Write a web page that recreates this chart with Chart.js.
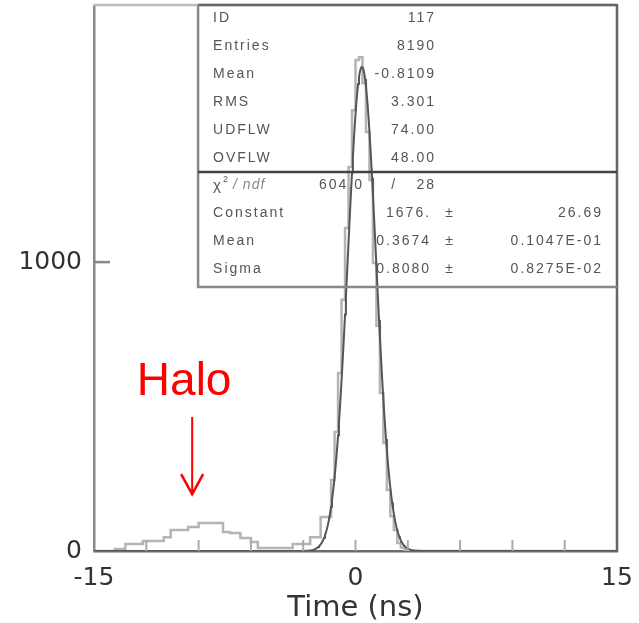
<!DOCTYPE html>
<html>
<head>
<meta charset="utf-8">
<title>Time (ns)</title>
<script src="https://cdn.jsdelivr.net/npm/chart.js@4.4.1/dist/chart.umd.min.js"></script>
<style>
  html, body { margin: 0; padding: 0; background: #fff; }
  canvas { display: block; }
</style>
</head>
<body>
<canvas id="chart" width="639" height="623"></canvas>
<script>
// Timing histogram: 150 bins of 0.2 ns covering -15 .. 15 ns
const BIN_LOW = -15;
const BIN_WIDTH = 0.2;
const binCounts = [
    0, 0, 0, 0, 0, 0,                         // -15.0 .. -14.0
    7, 7, 7,                                  // -13.8 .. -13.4
    24, 24, 24, 24, 24,                       // -13.2 .. -12.4
    35, 35, 35, 35, 35, 35,                   // -12.2 .. -11.2
    48, 48,                                   // -11.0 .. -10.8
    73, 73, 73, 73, 73,                       // -10.6 .. -9.8
    83, 83, 83,                               // -9.6 .. -9.2
    97, 97, 97, 97, 97, 97, 97,               // -9.0 .. -7.8
    66, 66,                                   // -7.6 .. -7.4
    62, 62, 62,                               // -7.2 .. -6.8
    45, 45, 45,                               // -6.6 .. -6.2
    31, 31,                                   // -6.0 .. -5.8
    10, 10, 10, 10, 10, 10, 10, 10, 10, 10,   // -5.6 .. -3.8
    24, 24, 24, 24, 24,                       // -3.6 .. -2.8
    48, 48, 48,                               // -2.6 .. -2.2
    118, 118, 118,                            // -2.0 .. -1.6
    246, 412, 616, 870, 1118, 1329, 1526,     // -1.4 .. -0.2
    1700, 1709, 1619, 1450, 1284, 997, 780,   // 0.0 .. 1.2
    547, 374, 211, 120, 73, 28, 12, 4,        // 1.4 .. 2.8
    0, 0, 0, 0, 0, 0, 0, 0, 0, 0,             // 3.0 .. 4.8
    0, 0, 0, 0, 0, 0, 0, 0, 0, 0,
    0, 0, 0, 0, 0, 0, 0, 0, 0, 0,
    0, 0, 0, 0, 0, 0, 0, 0, 0, 0,
    0, 0, 0, 0, 0, 0, 0, 0, 0, 0,
    0, 0, 0, 0, 0, 0, 0, 0, 0, 0              // .. 14.8
];

// Gaussian fit result
const fitConstant = 1676;
const fitMean = 0.3674;
const fitSigma = 0.8080;

// Stats box contents
const statLabels = ['ID', 'Entries', 'Mean', 'RMS', 'UDFLW', 'OVFLW'];
const statValues = ['117', '8190', '-0.8109', '3.301', '74.00', '48.00'];
const chi2Value = '604.0';
const ndfValue = '28';
const fitLabels = ['Constant', 'Mean', 'Sigma'];
const fitValues = ['1676.', '0.3674', '0.8080'];
const fitErrors = ['26.69', '0.1047E-01', '0.8275E-02'];

// Axis ticks
const X_MIN = -15, X_MAX = 15;
const Y_MIN = 0, Y_MAX = 1890;
const xTicks = [-15, 0, 15];
const xMinorTicks = [-12, -9, -6, -3, 0, 3, 6, 9, 12];
const yTicks = [0, 1000];

const AXIS_FONT = 'DejaVu Sans, sans-serif';
const TEXT_FONT = 'Liberation Sans, Arial, sans-serif';

// Build the step outline from the bin left edges, closing at the upper edge
const histPoints = binCounts.map((c, i) => ({ x: BIN_LOW + i * BIN_WIDTH, y: c }));
histPoints.push({ x: BIN_LOW + binCounts.length * BIN_WIDTH, y: binCounts[binCounts.length - 1] });

// Fit curve sampled from the fitted Gaussian parameters
const fitPoints = [];
for (let k = 0; k <= 600; k++) {
    const t = X_MIN + k * 0.05;
    fitPoints.push({ x: t, y: fitConstant * Math.exp(-0.5 * Math.pow((t - fitMean) / fitSigma, 2)) });
}

// Keep the plot frame fixed: no extra room reserved for edge labels
function fixScale(size) {
    return s => {
        if (s.isHorizontal()) s.height = size; else s.width = size;
        s.paddingTop = 0;
        s.paddingBottom = 0;
        s.paddingLeft = 0;
        s.paddingRight = 0;
    };
}

// Frame, minor ticks, stats box and the halo annotation
const pawDecor = {
    id: 'pawDecor',
    afterDatasetsDraw(chart) {
        const { ctx, chartArea: a, scales } = chart;
        const w = a.right - a.left, h = a.bottom - a.top;
        ctx.save();
        ctx.lineCap = 'butt';

        // top and right frame lines
        ctx.strokeStyle = '#bdbdbd';
        ctx.lineWidth = 2.5;
        ctx.beginPath();
        ctx.moveTo(a.left - 1, a.top);
        ctx.lineTo(a.right, a.top);
        ctx.stroke();
        ctx.strokeStyle = '#666';
        ctx.beginPath();
        ctx.moveTo(a.right, a.top - 1);
        ctx.lineTo(a.right, a.bottom + 1);
        ctx.stroke();

        // inward minor ticks on the time axis
        ctx.strokeStyle = '#aaa';
        ctx.lineWidth = 2;
        xMinorTicks.forEach(v => {
            const px = scales.x.getPixelForValue(v);
            ctx.beginPath();
            ctx.moveTo(px, a.bottom);
            ctx.lineTo(px, a.bottom - 11);
            ctx.stroke();
        });
        // inward tick at 1000 on the count axis
        ctx.strokeStyle = '#888';
        ctx.lineWidth = 2.5;
        const py = scales.y.getPixelForValue(1000);
        ctx.beginPath();
        ctx.moveTo(a.left, py);
        ctx.lineTo(a.left + 16, py);
        ctx.stroke();

        // stats box
        const bl = a.left + w * 0.199;
        const bt = a.top;
        const bm = a.top + h * 0.306;
        const bb = a.top + h * 0.5165;
        ctx.strokeStyle = '#666';
        ctx.lineWidth = 2.5;
        ctx.beginPath();
        ctx.moveTo(bl, bt);
        ctx.lineTo(a.right, bt);
        ctx.stroke();
        ctx.strokeStyle = '#888';
        ctx.beginPath();
        ctx.moveTo(bl, bt);
        ctx.lineTo(bl, bb);
        ctx.lineTo(a.right, bb);
        ctx.stroke();
        ctx.strokeStyle = '#444';
        ctx.beginPath();
        ctx.moveTo(bl, bm);
        ctx.lineTo(a.right, bm);
        ctx.stroke();

        ctx.fillStyle = '#555';
        ctx.font = '14px ' + TEXT_FONT;
        ctx.letterSpacing = '2px';
        ctx.textBaseline = 'middle';
        const labelX = bl + 15;
        const valueR = bl + 238;
        statLabels.forEach((lab, i) => {
            const y = bt + 13 + i * 28;
            ctx.textAlign = 'left';
            ctx.fillText(lab, labelX, y);
            ctx.textAlign = 'right';
            ctx.fillText(statValues[i], valueR, y);
        });

        // chi2 / ndf row
        const cy = bm + 13;
        ctx.textAlign = 'left';
        ctx.letterSpacing = '0px';
        ctx.font = '15px ' + TEXT_FONT;
        ctx.fillText('\u03c7', labelX, cy + 1);
        ctx.font = '9px ' + TEXT_FONT;
        ctx.fillText('2', labelX + 10, cy - 6);
        ctx.fillStyle = '#888';
        ctx.font = 'italic 14px ' + TEXT_FONT;
        ctx.letterSpacing = '1px';
        ctx.fillText('/ ndf', labelX + 20, cy);
        ctx.fillStyle = '#555';
        ctx.font = '14px ' + TEXT_FONT;
        ctx.letterSpacing = '2px';
        ctx.textAlign = 'right';
        ctx.fillText(chi2Value, bl + 166, cy);
        ctx.fillText(ndfValue, valueR, cy);
        ctx.textAlign = 'center';
        ctx.fillText('/', bl + 196, cy);

        // fit parameter rows
        fitLabels.forEach((lab, i) => {
            const y = cy + (i + 1) * 28;
            ctx.textAlign = 'left';
            ctx.fillText(lab, labelX, y);
            ctx.textAlign = 'right';
            ctx.fillText(fitValues[i], valueR - 5, y);
            ctx.textAlign = 'center';
            ctx.fillText('\u00b1', bl + 252, y);
            ctx.textAlign = 'right';
            ctx.fillText(fitErrors[i], a.right - 14, y);
        });

        // "Halo" label with arrow pointing at the early bump
        const ax = scales.x.getPixelForValue(-9.37);
        const tip = scales.y.getPixelForValue(197);
        const tail = scales.y.getPixelForValue(464);
        ctx.letterSpacing = '0px';
        ctx.fillStyle = '#ff0000';
        ctx.strokeStyle = '#ff0000';
        ctx.font = '46px ' + TEXT_FONT;
        ctx.textAlign = 'center';
        ctx.textBaseline = 'alphabetic';
        ctx.fillText('Halo', scales.x.getPixelForValue(-9.83), scales.y.getPixelForValue(540));
        ctx.lineWidth = 2;
        ctx.beginPath();
        ctx.moveTo(ax, tail);
        ctx.lineTo(ax, tip);
        ctx.stroke();
        ctx.lineWidth = 2.5;
        ctx.beginPath();
        ctx.moveTo(ax - 11, tip - 20);
        ctx.lineTo(ax, tip);
        ctx.lineTo(ax + 11, tip - 20);
        ctx.stroke();
        ctx.restore();
    }
};

new Chart(document.getElementById('chart'), {
    type: 'line',
    data: {
        datasets: [
            {
                label: 'Time',
                data: histPoints,
                stepped: 'before',
                borderColor: '#b4b4b4',
                borderWidth: 2.5,
                pointRadius: 0,
                fill: false,
                order: 2
            },
            {
                label: 'Gaussian fit',
                data: fitPoints,
                borderColor: '#555',
                borderWidth: 2,
                pointRadius: 0,
                tension: 0,
                fill: false,
                order: 1
            }
        ]
    },
    options: {
        responsive: false,
        animation: false,
        devicePixelRatio: 1,
        layout: { padding: { top: 5, right: 22, left: 0, bottom: 0 } },
        plugins: {
            legend: { display: false },
            tooltip: { enabled: false }
        },
        scales: {
            x: {
                type: 'linear',
                min: X_MIN,
                max: X_MAX,
                afterBuildTicks: s => { s.ticks = xTicks.map(v => ({ value: v })); },
                afterFit: fixScale(72),
                grid: { display: false, drawTicks: false, tickLength: 0 },
                border: { display: true, color: '#6a6a6a', width: 2.5 },
                ticks: {
                    autoSkip: false,
                    maxRotation: 0,
                    padding: 12,
                    color: '#333',
                    font: { family: AXIS_FONT, size: 25 },
                    callback: v => String(v)
                },
                title: {
                    display: true,
                    text: 'Time (ns)',
                    color: '#333',
                    font: { family: AXIS_FONT, size: 29, lineHeight: 1 },
                    padding: { top: 0, bottom: 0 }
                }
            },
            y: {
                type: 'linear',
                min: Y_MIN,
                max: Y_MAX,
                afterBuildTicks: s => { s.ticks = yTicks.map(v => ({ value: v })); },
                afterFit: fixScale(94),
                grid: { display: false, drawTicks: false, tickLength: 0 },
                border: { display: true, color: '#888', width: 2.5 },
                ticks: {
                    autoSkip: false,
                    padding: 12,
                    color: '#333',
                    font: { family: AXIS_FONT, size: 25 },
                    callback: v => String(v)
                }
            }
        }
    },
    plugins: [pawDecor]
});
</script>
</body>
</html>
